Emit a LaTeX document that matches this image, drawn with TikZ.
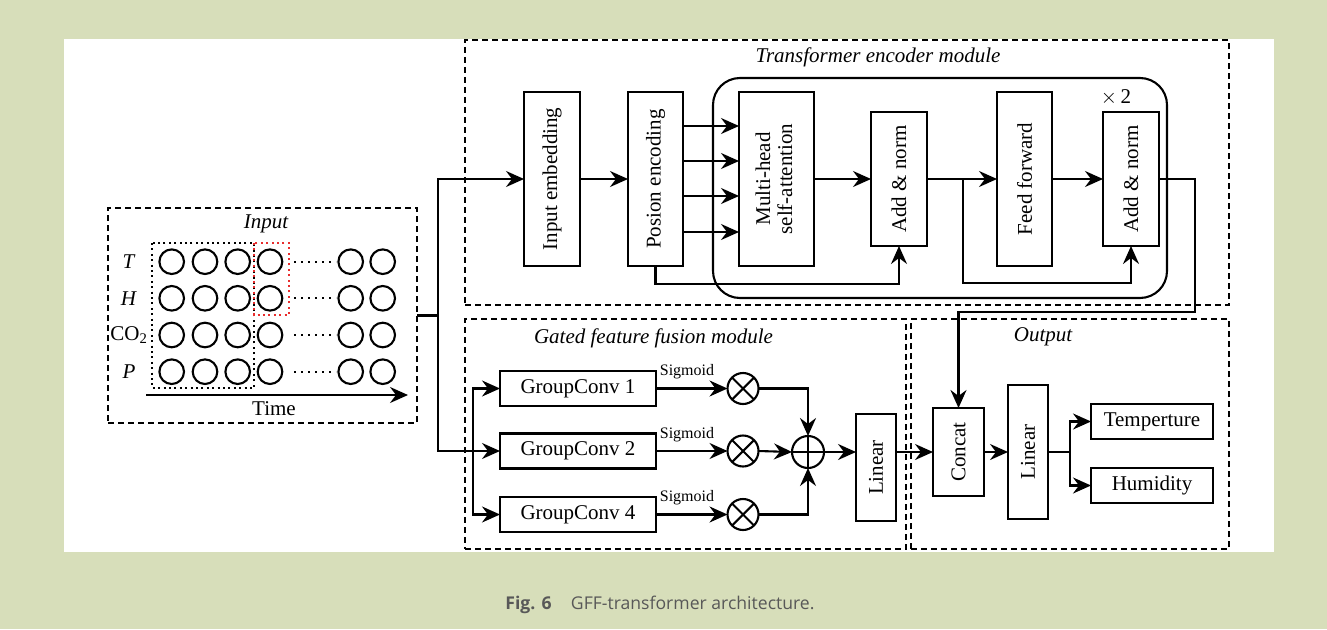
\documentclass[tikz,border=0pt]{standalone}
\usepackage{fontspec}
\setmainfont{Liberation Serif}
\newfontfamily\capfont{Open Sans}
\usepackage{graphicx}
\usetikzlibrary{arrows.meta,calc}
\definecolor{bggreen}{RGB}{215,222,186}
\definecolor{capgray}{RGB}{88,88,88}
\definecolor{dotred}{RGB}{232,45,45}
\tikzset{
  lw/.style={line width=2.1pt},
  box/.style={draw, line width=2.1pt, inner sep=0pt, outer sep=0pt, align=center},
  modbox/.style={draw, line width=2pt, dash pattern=on 6pt off 4pt, inner sep=0pt, outer sep=0pt},
  arr/.style={line width=2.1pt, -{Stealth[length=18pt,width=16pt,inset=6pt]}},
  wire/.style={line width=2.1pt},
  gate/.style={draw, circle, line width=2.1pt, minimum size=31pt, inner sep=0pt, outer sep=0pt},
  ttl/.style={font=\fontsize{21}{23}\selectfont\itshape},
  sig/.style={font=\fontsize{16}{18}\selectfont},
}
\begin{document}
\begin{tikzpicture}[x=1pt,y=-1pt, every node/.style={font=\fontsize{21}{23}\selectfont}]
% background and panel
\fill[bggreen] (0,0) rectangle (1327,629);
\fill[white] (64,39) rectangle (1274,552);
\useasboundingbox (0,0) rectangle (1327,629);

% ---------- Input ----------
\node[modbox, minimum width=309pt, minimum height=215pt] (inbox) at (262.5,315.5) {};
\node[ttl] (intitle) at (266,224) {Input};
\foreach \y/\lab in {261.7/\textit{T}, 298.3/\textit{H}, 335/{CO\textsubscript{2}}, 371.7/\textit{P}} {
  \node at (129,\y) {\lab};
  \foreach \x in {171.7,205,237.7,270,350.7,382.7} {
    \draw[lw] (\x,\y) circle[radius=12.3pt];
  }
  \draw[line width=2.3pt, dash pattern=on 2pt off 5pt] (294,\y) -- (336,\y);
}
\draw[line width=2pt, dash pattern=on 2pt off 3.4pt] (152,243) rectangle (254,388);
\draw[dotred, line width=2pt, dash pattern=on 2pt off 3.4pt] (254,243) rectangle (289,315);
\coordinate (tstart) at (146,395);
\coordinate (tend) at (408,395);
\draw[arr] (tstart) -- (tend);
\node (time) at (274,409) {Time};

% ---------- Transformer encoder module ----------
\node[modbox, minimum width=764pt, minimum height=265pt] (trbox) at (847,172.5) {};
\node[ttl] (trtitle) at (878,57) {Transformer encoder module};
\draw[lw, rounded corners=27pt] (713,78) rectangle (1167,298);
\node (times2) at (1116,97) {$\times$\,2};

\node[box, minimum width=56pt, minimum height=174pt] (ie) at (552,179) {\rotatebox{90}{Input embedding}};
\node[box, minimum width=55pt, minimum height=174pt] (pe) at (655.5,179) {\rotatebox{90}{Posion encoding}};
\node[box, minimum width=75pt, minimum height=174pt] (mh) at (776.5,179) {\rotatebox{90}{\begin{tabular}{@{}c@{}}Multi-head\\[-1pt]self-attention\end{tabular}}};
\node[box, minimum width=56pt, minimum height=134pt] (an1) at (899,179) {\rotatebox{90}{Add \& norm}};
\node[box, minimum width=55pt, minimum height=174pt] (ff) at (1024.5,179) {\rotatebox{90}{Feed forward}};
\node[box, minimum width=56pt, minimum height=134pt] (an2) at (1131,179) {\rotatebox{90}{Add \& norm}};

% ---------- Gated feature fusion module ----------
\node[modbox, minimum width=441pt, minimum height=230pt] (gbox) at (685.5,434) {};
\node[ttl] (gtitle) at (653.5,338) {Gated feature fusion module};
\node[box, minimum width=156pt, minimum height=35pt] (gc1) at (578,388.5) {GroupConv 1};
\node[box, minimum width=156pt, minimum height=35pt] (gc2) at (578,451) {GroupConv 2};
\node[box, minimum width=156pt, minimum height=35pt] (gc4) at (578,514.5) {GroupConv 4};
\node[gate] (ot1) at (743,388.5) {};
\node[gate] (ot2) at (743,451) {};
\node[gate] (ot4) at (743,514.5) {};
\foreach \n in {ot1,ot2,ot4} {
  \draw[lw] (\n.north west) -- (\n.south east);
  \draw[lw] (\n.north east) -- (\n.south west);
}
\node[gate, minimum size=32pt] (op) at (808,452) {};
\draw[lw] (op.north) -- (op.south);
\draw[lw] (op.west) -- (op.east);
\node[box, minimum width=40pt, minimum height=107pt] (lin1) at (876,467.5) {\rotatebox{90}{Linear}};

% ---------- Output ----------
\node[modbox, minimum width=318pt, minimum height=230pt] (obox) at (1070,434) {};
\node[ttl] (otitle) at (1043,337) {Output};
\node[box, minimum width=51pt, minimum height=88pt] (concat) at (958.5,452) {\rotatebox{90}{Concat}};
\node[box, minimum width=40pt, minimum height=134pt] (lin2) at (1028,452) {\rotatebox{90}{Linear}};
\node[box, minimum width=122pt, minimum height=35pt] (temp) at (1152,421.5) {Temperture};
\node[box, minimum width=122pt, minimum height=35pt] (hum) at (1152,485.5) {Humidity};

% ---------- connectors ----------
\coordinate (split) at (438,315.5);
\draw[wire] (inbox.east) -- (split);
\draw[arr] (split) |- (ie.west);
\draw[arr] (split) |- (gc2.west);
\coordinate (gsplit) at (473,451);
\draw[arr] (gsplit) |- (gc1.west);
\draw[arr] (gsplit) |- (gc4.west);

\draw[arr] (ie.east) -- (pe.west);
\foreach \d in {-53,-17,18,53} {
  \draw[arr] ([yshift=\d pt]pe.east) -- ([yshift=\d pt]mh.west);
}
\draw[arr] (pe.south) -- ++(0,18) -| (an1.south);
\draw[arr] (mh.east) -- (an1.west);
\draw[arr] (an1.east) -- (ff.west);
\coordinate (res2) at (963,179);
\draw[arr] (res2) -- (963,283) -| (an2.south);
\draw[arr] (ff.east) -- (an2.west);
\coordinate (outbend) at (1195,179);
\draw[arr] (an2.east) -- (outbend) -- (1195,312) -| (concat.north);

\foreach \i in {1,2,4} {
  \draw[arr] (gc\i.east) -- (ot\i.west);
  \node[sig, anchor=base] at ([xshift=31pt,yshift=13pt]gc\i.east) {Sigmoid};
}
\draw[arr] (ot1.east) -| (op.north);
\draw[arr] (ot2.east) -- (op.west);
\draw[arr] (ot4.east) -| (op.south);
\draw[arr] (op.east) -- (op.east -| lin1.west);
\draw[arr] (lin1.east |- concat.west) -- (concat.west);
\draw[arr] (concat.east) -- (lin2.west);
\coordinate (obranch) at (1070,452);
\draw[wire] (lin2.east) -- (obranch);
\draw[arr] (obranch) |- (temp.west);
\draw[arr] (obranch) |- (hum.west);

% ---------- caption ----------
\node[font=\capfont\fontsize{17.6}{20}\selectfont, text=capgray, anchor=base] (cap) at (660,609.5) {\textbf{Fig. 6}\hspace{1.1em}GFF-transformer architecture.};
\end{tikzpicture}
\end{document}
